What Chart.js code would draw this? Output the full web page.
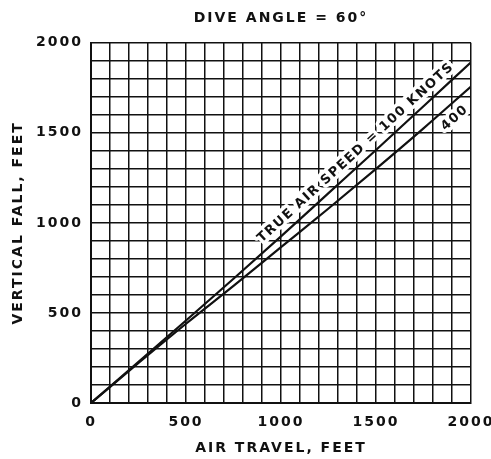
<!DOCTYPE html>
<html>
<head>
<meta charset="utf-8">
<script src="https://cdn.jsdelivr.net/npm/chart.js@4.4.0/dist/chart.umd.min.js"></script>
<style>
  html, body { margin: 0; padding: 0; background: #fff; }
  #wrap { position: relative; width: 491px; height: 459px; }
</style>
</head>
<body>
<div id="wrap"><canvas id="c"></canvas></div>
<script>
// values (feet)
const airTravel = [0, 250, 500, 750, 1000, 1250, 1500, 1750, 2000];
const fall100 = [0, 228, 458, 690, 925, 1165, 1405, 1648, 1892];
const fall400 = [0, 222, 440, 650, 865, 1080, 1300, 1525, 1757];
const seriesNames = ['TRUE AIR SPEED = 100 KNOTS', '400'];
const tickLabels = [0, 500, 1000, 1500, 2000];

const ink = '#111';
const font = '"DejaVu Sans", sans-serif';

const toPoints = (ys) => airTravel.map((x, i) => ({ x: x, y: ys[i] }));

// where along each curve the label sits, and how far off the line (px, + = above)
const labelSpots = [
  { at: 1435, offset: 11.5 },
  { at: 1870, offset: -13 }
];

// spread the letters a little, like the hand lettering
const spacing = {
  id: 'spacing',
  beforeDraw(chart) { chart.ctx.letterSpacing = '2px'; },
  afterDraw(chart) { chart.ctx.letterSpacing = '0px'; }
};

function eachLabel(chart, draw) {
  const { ctx } = chart;
  const xs = chart.scales.x, ys = chart.scales.y;
  ctx.save();
  ctx.font = 'bold 13px ' + font;
  ctx.letterSpacing = '1.5px';
  ctx.textAlign = 'center';
  ctx.textBaseline = 'middle';
  chart.data.datasets.forEach((ds, i) => {
    const spot = labelSpots[i];
    const pts = ds.data;
    let k = 1;
    while (k < pts.length - 1 && pts[k].x < spot.at) k++;
    const a = pts[k - 1], b = pts[k];
    const t = (spot.at - a.x) / (b.x - a.x);
    const yv = a.y + t * (b.y - a.y);
    const px = xs.getPixelForValue(spot.at), py = ys.getPixelForValue(yv);
    const ang = Math.atan2(ys.getPixelForValue(b.y) - ys.getPixelForValue(a.y),
                           xs.getPixelForValue(b.x) - xs.getPixelForValue(a.x));
    ctx.save();
    ctx.translate(px + Math.sin(ang) * spot.offset, py - Math.cos(ang) * spot.offset);
    ctx.rotate(ang);
    draw(ctx, ds.label);
    ctx.restore();
  });
  ctx.restore();
}

const lineLabels = {
  id: 'lineLabels',
  // white gap in the grid behind the lettering
  beforeDatasetsDraw(chart) {
    eachLabel(chart, (ctx, txt) => {
      ctx.strokeStyle = '#fff';
      ctx.lineWidth = 7;
      ctx.lineJoin = 'round';
      ctx.strokeText(txt, 0, 0);
      ctx.fillStyle = '#fff';
      ctx.fillText(txt, 0, 0);
    });
  },
  afterDatasetsDraw(chart) {
    eachLabel(chart, (ctx, txt) => {
      ctx.fillStyle = ink;
      ctx.fillText(txt, 0, 0);
    });
  }
};

const grid = {
  color: ink,
  lineWidth: 1.5,
  drawTicks: false
};

new Chart(document.getElementById('c'), {
  type: 'line',
  data: {
    datasets: [
      {
        label: seriesNames[0],
        data: toPoints(fall100),
        borderColor: ink,
        borderWidth: 2.2,
        pointRadius: 0,
        cubicInterpolationMode: 'monotone'
      },
      {
        label: seriesNames[1],
        data: toPoints(fall400),
        borderColor: ink,
        borderWidth: 2.2,
        pointRadius: 0,
        cubicInterpolationMode: 'monotone'
      }
    ]
  },
  options: {
    responsive: true,
    maintainAspectRatio: false,
    animation: false,
    layout: { padding: { left: 6, right: 20, top: 10, bottom: 2 } },
    plugins: {
      legend: { display: false },
      tooltip: { enabled: false },
      title: {
        display: true,
        fullSize: false,
        text: 'DIVE ANGLE = 60°',
        color: ink,
        font: { family: font, size: 14, weight: 'bold' },
        padding: { top: 0, bottom: 16 }
      }
    },
    scales: {
      x: {
        type: 'linear',
        min: 0,
        max: 2000,
        grid: grid,
        border: { color: ink, width: 2 },
        ticks: {
          stepSize: 100,
          autoSkip: false,
          maxRotation: 0,
          padding: 11,
          color: ink,
          font: { family: font, size: 14, weight: 'bold' },
          callback: (v) => tickLabels.includes(v) ? String(v) : ''
        },
        title: {
          display: true,
          text: 'AIR TRAVEL, FEET',
          color: ink,
          font: { family: font, size: 14, weight: 'bold' },
          padding: { top: 0, bottom: 0 }
        },
        afterFit: (s) => { s.height = 54; s.paddingRight = 0; s.paddingLeft = 0; }
      },
      y: {
        min: 0,
        max: 2000,
        grid: grid,
        border: { color: ink, width: 2 },
        ticks: {
          stepSize: 100,
          autoSkip: false,
          padding: 8,
          color: ink,
          font: { family: font, size: 14, weight: 'bold' },
          callback: (v) => tickLabels.includes(v) ? String(v) : ''
        },
        title: {
          display: true,
          text: 'VERTICAL FALL, FEET',
          color: ink,
          font: { family: font, size: 14, weight: 'bold' },
          padding: { top: 4, bottom: 0 }
        },
        afterFit: (s) => { s.width = 85; }
      }
    }
  },
  plugins: [spacing, lineLabels]
});
</script>
</body>
</html>
